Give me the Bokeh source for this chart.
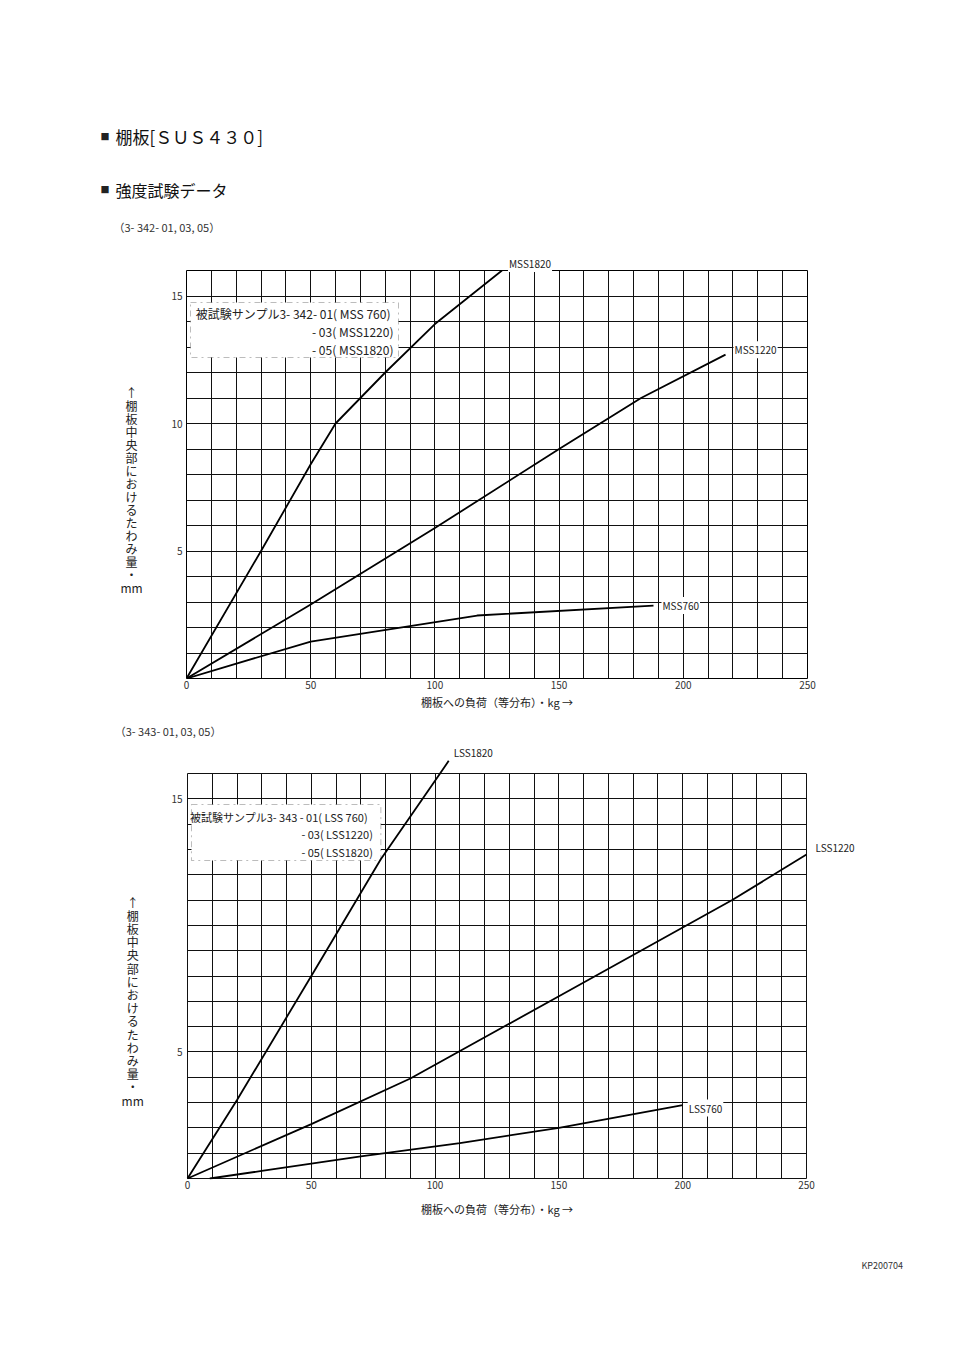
from bokeh.plotting import figure
from bokeh.models import Label, BoxAnnotation, FixedTicker, Range1d
from bokeh.layouts import column
from bokeh.embed import file_html
from bokeh.resources import INLINE

FONT = "Noto Sans CJK JP"

# ---------------- data (load kg -> deflection mm) ----------------
# chart 1 : 3-342 (MSS)
mss760_load = [0, 50, 117, 188]
mss760_defl = [0, 1.45, 2.47, 2.86]
mss1220_load = [0, 50, 100, 150, 183, 217]
mss1220_defl = [0, 2.9, 5.9, 9.0, 11.0, 12.7]
mss1820_load = [0, 30, 50, 60, 80, 100, 127]
mss1820_defl = [0, 5.0, 8.4, 10.0, 12.0, 13.9, 16.0]

# chart 2 : 3-343 (LSS)
lss760_load = [9, 30, 70, 110, 150, 200]
lss760_defl = [0, 0.3, 0.87, 1.4, 2.0, 2.9]
lss1220_load = [0, 50, 90, 150, 220, 250]
lss1220_defl = [0, 2.15, 3.95, 7.2, 11.0, 12.8]
lss1820_load = [0, 20, 50, 78, 102, 105.5]
lss1820_defl = [0, 3.1, 8.0, 12.6, 16.0, 16.5]

x_ticks = [0, 50, 100, 150, 200, 250]
y_ticks_1 = [5, 10, 15]
y_ticks_2 = [5, 15]
grid_x = list(range(0, 251, 10))
grid_y = list(range(0, 17, 1))

x_title = "棚板への負荷（等分布）・kg →"
y_title = "↑\n" + "\n".join("棚板中央部におけるたわみ量・") + "\nmm"

legend_1 = ["被試験サンプル3- 342- 01( MSS  760)", "- 03( MSS1220)", "- 05( MSS1820)"]
legend_2 = ["被試験サンプル3- 343  - 01( LSS  760)", "- 03( LSS1220)", "- 05( LSS1820)"]

# page geometry (canvas starts at page x = 0)
W = 944
FRAME_L, FRAME_R = 186, 807  # page x of x=0 and x=250
KG_PX = (FRAME_R - FRAME_L) / 250.0


def style_fig(p, yticks, lab_standoff, ax_standoff):
    p.background_fill_color = "white"
    p.border_fill_color = "white"
    p.xaxis.ticker = FixedTicker(ticks=x_ticks)
    p.yaxis.ticker = FixedTicker(ticks=yticks)
    p.xgrid.ticker = FixedTicker(ticks=grid_x)
    p.ygrid.ticker = FixedTicker(ticks=grid_y)
    for g in (p.xgrid, p.ygrid):
        g.grid_line_color = "#111111"
        g.grid_line_width = 1
        g.grid_line_alpha = 1
    for ax in (p.xaxis, p.yaxis):
        ax.axis_line_color = None
        ax.major_tick_line_color = None
        ax.minor_tick_line_color = None
        ax.major_tick_out = 0
        ax.major_tick_in = 0
        ax.minor_tick_out = 0
        ax.major_label_text_font = FONT
        ax.major_label_text_font_size = "10px"
        ax.major_label_text_color = "#333333"
    p.yaxis.major_label_standoff = 4
    p.xaxis.major_label_standoff = lab_standoff
    p.xaxis.axis_label = x_title
    p.xaxis.axis_label_text_font = FONT
    p.xaxis.axis_label_text_font_size = "11px"
    p.xaxis.axis_label_text_font_style = "normal"
    p.xaxis.axis_label_text_color = "#222222"
    p.xaxis.axis_label_standoff = ax_standoff


def mapper(frame_top, frame_bottom):
    def px(x):
        return (x - FRAME_L) * 250.0 / (FRAME_R - FRAME_L)

    def py(y):
        return (frame_bottom - y) * 16.0 / (frame_bottom - frame_top)
    return px, py


def text(p, s, x, y, size, align="left", color="#222222", bg=None, xo=0, yo=0,
         place="above", baseline="middle", line_height=1.2):
    lab = Label(x=x, y=y, text=s, text_font=FONT, text_font_size=size,
                text_align=align, text_baseline=baseline, text_color=color,
                x_offset=xo, y_offset=yo, text_line_height=line_height)
    if bg:
        lab.background_fill_color = bg
        lab.padding = 1
    if place == "center":
        p.add_layout(lab)
    else:
        p.add_layout(lab, place)


def draw_series(p, xs, ys):
    return p.line(xs, ys, line_color="black", line_width=1.8)


def legend_box(p, left, right, top, bottom):
    p.add_layout(BoxAnnotation(left=left, right=right, top=top, bottom=bottom,
                               fill_color="white", fill_alpha=1, line_color="#222222",
                               line_width=1, line_dash="dashdot"))


# ---------------- figure 1 ----------------
F1_TOP, F1_BOT = 270, 678
H1 = 718
p1 = figure(width=W, height=H1, output_backend="svg", toolbar_location=None,
            x_range=Range1d(0, 250), y_range=Range1d(0, 16),
            min_border_left=FRAME_L, min_border_right=W - FRAME_R,
            min_border_top=F1_TOP, min_border_bottom=H1 - F1_BOT)
p1.outline_line_color = "black"
p1.outline_line_width = 1
style_fig(p1, y_ticks_1, 2, 2)
px1, py1 = mapper(F1_TOP, F1_BOT)

text(p1, "■", px1(100), py1(136), "9px", place="left")
text(p1, "棚板[ＳＵＳ４３０]", px1(115), py1(136), "17px", color="#111111")
text(p1, "■", px1(100), py1(189), "9px", place="left")
text(p1, "強度試験データ", px1(115), py1(189), "16px", color="#111111")
text(p1, "（3- 342- 01, 03, 05）", px1(113), py1(226), "11px", color="#333333")

legend_box(p1, px1(190), px1(398), py1(302), py1(357))
for i, s in enumerate(legend_1):
    text(p1, s, px1(393), py1(313 + 18 * i), "12px", align="right", place="center")

draw_series(p1, mss760_load, mss760_defl)
draw_series(p1, mss1220_load, mss1220_defl)
draw_series(p1, mss1820_load, mss1820_defl)
text(p1, "MSS760", mss760_load[-1], mss760_defl[-1], "10px", bg="white", xo=8, yo=0, place="center")
text(p1, "MSS1220", mss1220_load[-1], mss1220_defl[-1], "10px", bg="white", xo=8, yo=5, place="center")
text(p1, "MSS1820", mss1820_load[-1], mss1820_defl[-1], "10px", bg="white", xo=6, yo=7)

text(p1, y_title, px1(131), py1(383), "12px", align="center", baseline="top",
     line_height=0.768, place="left")

# ---------------- figure 2 ----------------
# frame is a little larger than the 0-250 / 0-16 grid so the LSS1820 curve can
# run above the grid; the strip above 16 is blanked out.  Frame edges are kept
# on whole pixels.
F2_TOP, F2_BOT, F2_PAGE = 773, 1178, 718
H2 = 590
UNIT_PX = (F2_BOT - F2_TOP) / 16.0
fr_left, fr_right = FRAME_L - 1, FRAME_R + 1      # page x
fr_top, fr_bot = 759, F2_BOT + 1                  # page y
X_LO = (fr_left - FRAME_L) / KG_PX
X_HI = 250 + (fr_right - FRAME_R) / KG_PX
Y_LO = (F2_BOT - fr_bot) / UNIT_PX
Y_HI = (F2_BOT - fr_top) / UNIT_PX
p2 = figure(width=W, height=H2, output_backend="svg", toolbar_location=None,
            x_range=Range1d(X_LO, X_HI), y_range=Range1d(Y_LO, Y_HI),
            min_border_left=fr_left, min_border_right=W - fr_right,
            min_border_top=fr_top - F2_PAGE,
            min_border_bottom=H2 - (fr_bot - F2_PAGE))
p2.outline_line_color = None
style_fig(p2, y_ticks_2, 1, 9)
if "cross_bounds" in p2.xgrid.properties():
    p2.xgrid.cross_bounds = (grid_y[0], grid_y[-1])
    p2.ygrid.cross_bounds = (grid_x[0], grid_x[-1])
px2, py2 = mapper(F2_TOP, F2_BOT)

p2.add_layout(BoxAnnotation(bottom=grid_y[-1] + 0.035, top=Y_HI + 2,
                            left=X_LO - 5, right=X_HI + 5,
                            fill_color="white", fill_alpha=1, line_color=None))

text(p2, "（3- 343- 01, 03, 05）", px2(113), py2(730), "11px", color="#333333")
legend_box(p2, px2(190), px2(380), py2(804), py2(860))
for i, s in enumerate(legend_2):
    text(p2, s, px2(372), py2(816 + 17.5 * i), "11px", align="right", place="center")

draw_series(p2, lss760_load, lss760_defl)
draw_series(p2, lss1220_load, lss1220_defl)
r1820 = draw_series(p2, lss1820_load, lss1820_defl)
r1820.level = "overlay"
text(p2, "LSS760", lss760_load[-1], lss760_defl[-1], "10px", bg="white", xo=5, yo=-3, place="center")
text(p2, "LSS1220", lss1220_load[-1], lss1220_defl[-1], "10px", bg="white", xo=8, yo=7, place="right")
text(p2, "LSS1820", lss1820_load[-1], lss1820_defl[-1], "10px", bg="white", xo=4, yo=8)

text(p2, y_title, px2(131), py2(893), "12px", align="center", baseline="top",
     line_height=0.777, place="left")
text(p2, "KP200704", px2(883), py2(1265), "9px", align="center", color="#333333", place="below")

layout = column(p1, p2, spacing=0)
open("out.html", "w").write(file_html(layout, INLINE))
